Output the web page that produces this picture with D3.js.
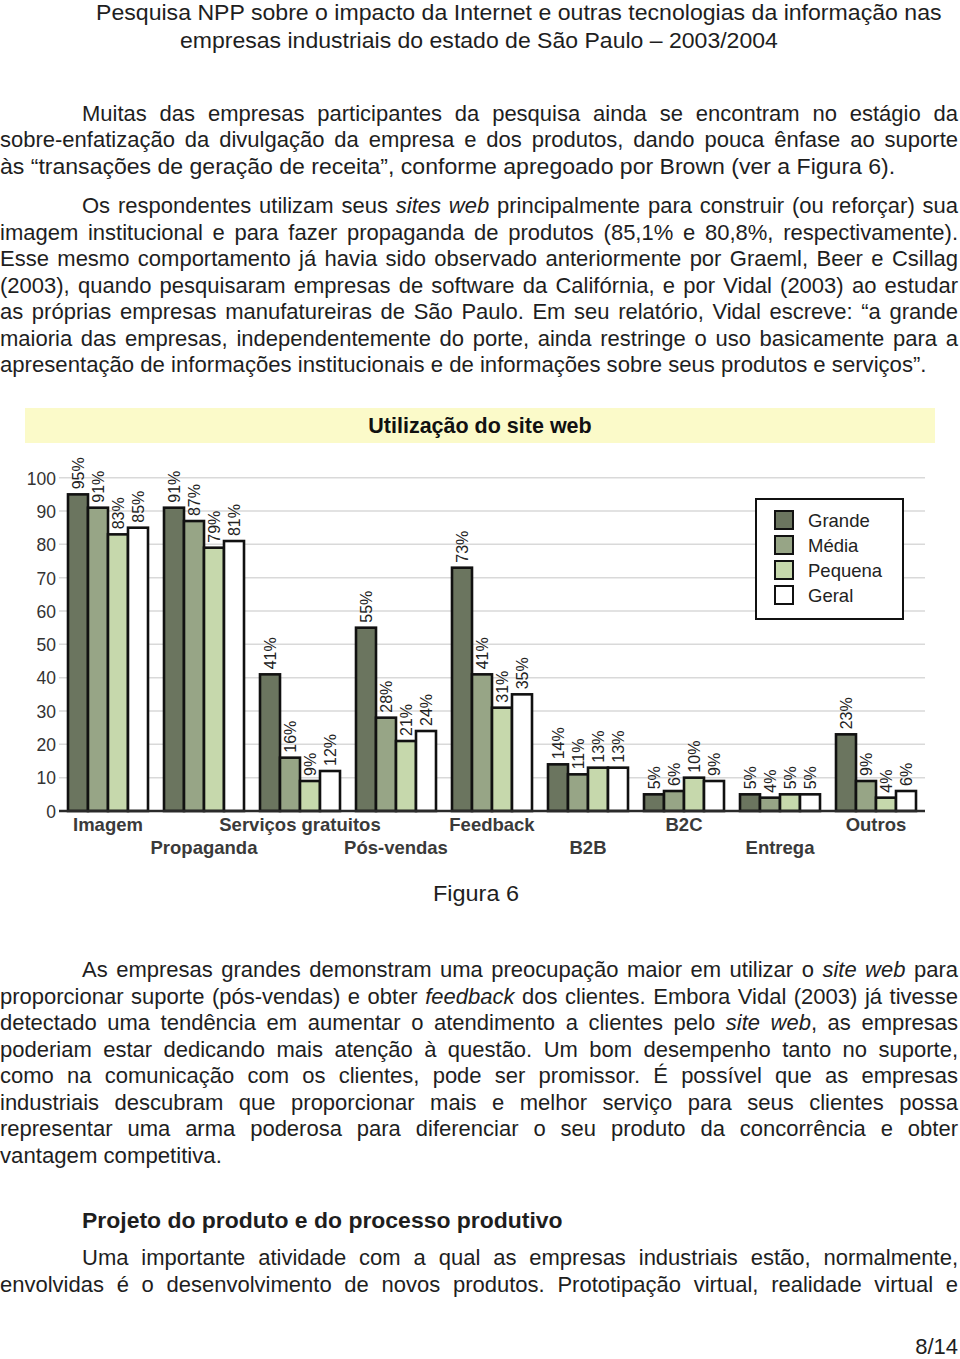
<!DOCTYPE html>
<html><head><meta charset="utf-8">
<script src="https://cdn.jsdelivr.net/npm/d3@7"></script>
<style>body{margin:0;background:#fff} svg{display:block}</style>
</head><body>
<svg id="page" width="960" height="1359"></svg>
<script>
// ---------- chart data ----------
const categories = ["Imagem","Propaganda","Serviços gratuitos","Pós-vendas","Feedback","B2B","B2C","Entrega","Outros"];
const seriesNames = ["Grande","Média","Pequena","Geral"];
const grande  = [95,91,41,55,73,14,5,5,23];
const media   = [91,87,16,28,41,11,6,4,9];
const pequena = [83,79,9,21,31,13,10,5,4];
const geral   = [85,81,12,24,35,13,9,5,6];
const yTicks = [0,10,20,30,40,50,60,70,80,90,100];
const chartTitle = "Utilização do site web";
const seriesColors = ["#6b755f","#97a586","#c6d8ac","#ffffff"];

// ---------- page text ----------
const headerLines = ["Pesquisa NPP sobre o impacto da Internet e outras tecnologias da informação nas",
  "empresas industriais do estado de São Paulo – 2003/2004"];
const para1 = ["Muitas das empresas participantes da pesquisa ainda se encontram no estágio da",
  "sobre-enfatização da divulgação da empresa e dos produtos, dando pouca ênfase ao suporte",
  "às “transações de geração de receita”, conforme apregoado por Brown (ver a Figura 6)."];
const para2 = ["Os respondentes utilizam seus _sites web_ principalmente para construir (ou reforçar) sua",
  "imagem institucional e para fazer propaganda de produtos (85,1% e 80,8%, respectivamente).",
  "Esse mesmo comportamento já havia sido observado anteriormente por Graeml, Beer e Csillag",
  "(2003), quando pesquisaram empresas de software da Califórnia, e por Vidal (2003) ao estudar",
  "as próprias empresas manufatureiras de São Paulo. Em seu relatório, Vidal escreve: “a grande",
  "maioria das empresas, independentemente do porte, ainda restringe o uso basicamente para a",
  "apresentação de informações institucionais e de informações sobre seus produtos e serviços”."];
const para3 = ["As empresas grandes demonstram uma preocupação maior em utilizar o _site web_ para",
  "proporcionar suporte (pós-vendas) e obter _feedback_ dos clientes. Embora Vidal (2003) já tivesse",
  "detectado uma tendência em aumentar o atendimento a clientes pelo _site web_, as empresas",
  "poderiam estar dedicando mais atenção à questão. Um bom desempenho tanto no suporte,",
  "como na comunicação com os clientes, pode ser promissor. É possível que as empresas",
  "industriais descubram que proporcionar mais e melhor serviço para seus clientes possa",
  "representar uma arma poderosa para diferenciar o seu produto da concorrência e obter",
  "vantagem competitiva."];
const heading = "Projeto do produto e do processo produtivo";
const para4 = ["Uma importante atividade com a qual as empresas industriais estão, normalmente,",
  "envolvidas é o desenvolvimento de novos produtos. Prototipação virtual, realidade virtual e"];
const caption = "Figura 6";
const pageNum = "8/14";

const svg = d3.select("#page");
const HELV = "'Liberation Sans', Arial, Helvetica, sans-serif";

function parseSegs(s){
  return s.split("_").map((t,i)=>({t, i: i%2===1})).filter(d=>d.t.length);
}
// justify: stretch word spacing to width; fit: scale horizontally to width
function line(str, x, y, o){
  const segs = parseSegs(str);
  const t = svg.append("text")
    .attr("font-size", o.size).attr("font-family", HELV)
    .attr("font-weight", o.weight || "normal")
    .attr("fill", o.fill || "#1e1e1e")
    .attr("text-anchor", o.anchor || "start");
  segs.forEach(s => t.append("tspan").attr("font-style", s.i ? "italic" : null).text(s.t));
  const nat = t.node().getComputedTextLength();
  let sx = 1;
  if (o.justify){
    const spaces = str.split(" ").length - 1;
    if (spaces > 0) t.attr("word-spacing", (o.justify - nat) / spaces);
  } else if (o.fit){
    sx = o.fit / nat;
  }
  t.attr("transform", `translate(${x},${y}) scale(${sx},1)`);
  return t;
}

const FS = 22, LH = 26.5;
// header
line(headerLines[0], 96, 20, {size:FS, fit:846});
line(headerLines[1], 180, 48, {size:FS, fit:598});

// paragraph 1 & 2
const paraEnds1 = [null, null, 896];
para1.forEach((s,i)=>{
  const x = i===0 ? 82 : 0;
  line(s, x, 120.7 + i*LH, i<para1.length-1 ? {size:FS, justify:958-x} : {size:FS, fit:paraEnds1[i]-x});
});
para2.forEach((s,i)=>{
  const x = i===0 ? 82 : 0;
  line(s, x, 213.3 + i*LH, i<para2.length-1 ? {size:FS, justify:958-x} : {size:FS, fit:927-x});
});

// caption
line(caption, 476, 901, {size:FS, anchor:"middle", fit:86});

// paragraph 3
para3.forEach((s,i)=>{
  const x = i===0 ? 82 : 0;
  line(s, x, 977 + i*LH, i<para3.length-1 ? {size:FS, justify:958-x} : {size:FS, fit:222});
});
line(heading, 82, 1228, {size:FS, weight:"bold", fit:481});
para4.forEach((s,i)=>{
  const x = i===0 ? 82 : 0;
  line(s, x, 1265 + i*LH, {size:FS, justify:958-x});
});
line(pageNum, 958, 1354, {size:FS, anchor:"end"});

// ---------- chart ----------
const chart = svg.append("g").attr("font-family", HELV);
chart.append("rect").attr("x",25).attr("y",408).attr("width",910).attr("height",35).attr("fill","#fbfac9");
chart.append("text").attr("x",480).attr("y",433).attr("text-anchor","middle")
  .attr("font-size",21.5).attr("font-weight","bold").attr("fill","#111").text(chartTitle);

const x0 = d3.scaleBand().domain(categories).range([60,924]).paddingInner(1/6).paddingOuter(1/12);
const x1 = d3.scaleBand().domain(seriesNames).range([0, x0.bandwidth()]);
const y = d3.scaleLinear().domain([0,100]).range([811, 477.7]);
const color = d3.scaleOrdinal().domain(seriesNames).range(seriesColors);
const seriesValues = [grande, media, pequena, geral];

// gridlines
chart.append("g").selectAll("line").data(yTicks.filter(d=>d>0)).join("line")
  .attr("x1",59).attr("x2",925).attr("y1",d=>y(d)).attr("y2",d=>y(d))
  .attr("stroke","#d9d9d9").attr("stroke-width",1.5);

// y tick labels
const yAxis = d3.axisLeft(y).tickValues(yTicks).tickSize(0).tickPadding(0).tickFormat(d3.format("d"));
const ya = chart.append("g").attr("transform","translate(56,0)").call(yAxis);
ya.select(".domain").remove();
ya.selectAll("text").attr("font-size",17.5).attr("fill","#333").attr("font-family",HELV).attr("dy","0.36em");

// bars
const rows = [];
categories.forEach((c,ci)=>seriesNames.forEach((s,si)=>rows.push({c, s, v: seriesValues[si][ci]})));
chart.append("g").selectAll("rect").data(rows).join("rect")
  .attr("x", d=>x0(d.c)+x1(d.s)).attr("width", x1.bandwidth())
  .attr("y", d=>y(d.v)).attr("height", d=>y(0)-y(d.v))
  .attr("fill", d=>color(d.s)).attr("stroke","#111").attr("stroke-width",2.6);

// value labels (rotated)
chart.append("g").selectAll("text").data(rows).join("text")
  .attr("transform", d=>`translate(${x0(d.c)+x1(d.s)+x1.bandwidth()/2},${y(d.v)-5}) rotate(-90)`)
  .attr("dy","0.36em").attr("font-size",16).attr("fill","#222")
  .text(d=>d.v+"%");

// x axis line
chart.append("line").attr("x1",59).attr("x2",925).attr("y1",y(0)).attr("y2",y(0))
  .attr("stroke","#2a2a2a").attr("stroke-width",2.5);

// category labels (two staggered rows)
chart.append("g").selectAll("text").data(categories).join("text")
  .attr("x", d=>x0(d)+x0.bandwidth()/2)
  .attr("y", (d,i)=> i%2===0 ? 831 : 854)
  .attr("text-anchor","middle").attr("font-size",18.5).attr("font-weight","bold").attr("fill","#3a3a3a")
  .text(d=>d);

// legend
const lg = chart.append("g");
lg.append("rect").attr("x",756).attr("y",499).attr("width",147).attr("height",120)
  .attr("fill","#fff").attr("stroke","#111").attr("stroke-width",2);
const li = lg.selectAll("g.item").data(seriesNames).join("g").attr("class","item")
  .attr("transform",(d,i)=>`translate(775,${511+i*25})`);
li.append("rect").attr("width",18).attr("height",18).attr("fill",d=>color(d)).attr("stroke","#111").attr("stroke-width",2);
li.append("text").attr("x",33).attr("y",16).attr("font-size",18.5).attr("fill","#222").text(d=>d);
</script>
</body></html>
